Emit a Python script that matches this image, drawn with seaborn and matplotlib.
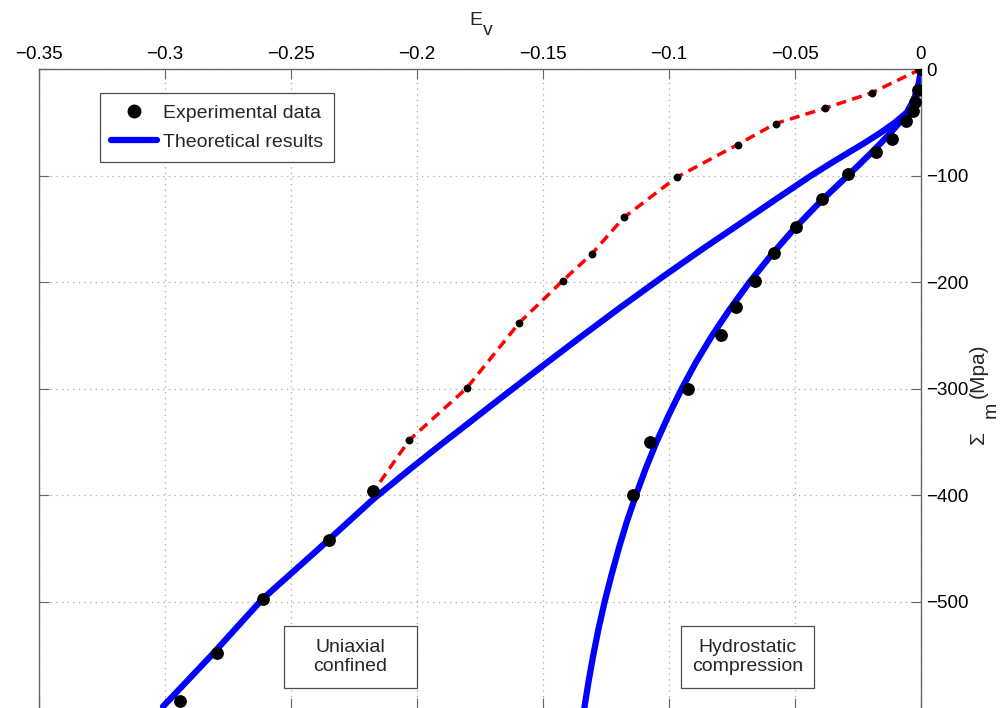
import numpy as np
import pandas as pd
import matplotlib
matplotlib.use('Agg')
import matplotlib.pyplot as plt
from matplotlib.patches import Rectangle
from matplotlib.lines import Line2D
import seaborn as sns

## DATA
# uniaxial confined, experimental, first part (small dots on red dashed line)
uni_exp_small_ev = [0, -0.0196, -0.0381, -0.0577, -0.0727, -0.0969, -0.1179, -0.1306,
                    -0.1422, -0.1594, -0.1803, -0.2031, -0.2173]
uni_exp_small_sm = [0, -22.4, -36.8, -51.2, -70.9, -101.6, -139.4, -173.5,
                    -198.9, -238.3, -299.7, -348.5, -396.7]
# uniaxial confined, experimental, second part (big dots)
uni_exp_big_ev = [-0.2173, -0.2348, -0.2612, -0.2795, -0.2940]
uni_exp_big_sm = [-396.7, -441.8, -498.0, -548.0, -593.0]
# hydrostatic compression, experimental
hyd_exp_ev = [0, -0.0012, -0.0024, -0.0033, -0.0061, -0.0116, -0.0180, -0.0290, -0.0392,
              -0.0497, -0.0582, -0.0658, -0.0734, -0.0794, -0.0926, -0.1075, -0.1142]
hyd_exp_sm = [0, -19.5, -30.5, -39.6, -49.2, -65.5, -78.1, -99.0, -122.5,
              -148.5, -172.6, -198.9, -223.3, -249.6, -300.0, -349.8, -399.8]
# theoretical results
uni_th_ev = [0, -0.0005, -0.0015, -0.0030, -0.0056, -0.0103, -0.0159, -0.0221, -0.0287,
             -0.0359, -0.0441, -0.0577, -0.0723, -0.0870, -0.1029, -0.1188, -0.1348,
             -0.1510, -0.1670, -0.1777, -0.1905, -0.2030, -0.2175, -0.2393, -0.2615,
             -0.2813, -0.3008]
uni_th_sm = [0, -10, -20, -30, -40.8, -50.2, -59.6, -69.0, -78.4,
             -88.7, -100.9, -122.5, -146.0, -169.5, -195.8, -223.0, -251.2,
             -280.3, -309.4, -329.1, -352.6, -376.1, -404.2, -451.2, -498.1,
             -549.8, -598.6]
hyd_th_ev = [0, -0.0005, -0.0015, -0.0030, -0.0053, -0.0084, -0.0121, -0.0161, -0.0203,
             -0.0246, -0.0290, -0.0401, -0.0503, -0.0595, -0.0680, -0.0757, -0.0828,
             -0.0892, -0.0949, -0.1001, -0.1049, -0.1092, -0.1131, -0.1167, -0.1199,
             -0.1228, -0.1255, -0.1279, -0.1300, -0.1319, -0.1336]
hyd_th_sm = [0, -10, -20, -30, -40, -50, -60, -70, -80,
             -90, -100, -125, -150, -175, -200, -225, -250,
             -275, -300, -325, -350, -375, -400, -425, -450,
             -475, -500, -525, -550, -575, -600]

xticks = [-0.35, -0.3, -0.25, -0.2, -0.15, -0.1, -0.05, 0]
xticklabels = ['\u22120.35', '\u22120.3', '\u22120.25', '\u22120.2', '\u22120.15', '\u22120.1', '\u22120.05', '0']
yticks = [0, -100, -200, -300, -400, -500]
yticklabels = ['0', '\u2212100', '\u2212200', '\u2212300', '\u2212400', '\u2212500']

sns.set_style('white')
plt.rcParams['font.family'] = ['Liberation Sans', 'DejaVu Sans']

fig = plt.figure(figsize=(10.01, 7.08), dpi=100)
ax = fig.add_axes([0.039, 0.0, 0.881, 0.9025])

# theory curves and red dashed line first, dots on top
sns.lineplot(x=uni_th_ev, y=uni_th_sm, sort=False, estimator=None, color='#0000ff', lw=4.5, ax=ax)
sns.lineplot(x=hyd_th_ev, y=hyd_th_sm, sort=False, estimator=None, color='#0000ff', lw=4.5, ax=ax)
sns.lineplot(x=uni_exp_small_ev, y=uni_exp_small_sm, sort=False, estimator=None, color='#ff0000',
             lw=2.5, linestyle=(0, (2.9, 1.8)), ax=ax)

sns.scatterplot(x=uni_exp_small_ev, y=uni_exp_small_sm, color='black', s=32, linewidth=0, ax=ax, zorder=5)
sns.scatterplot(x=uni_exp_big_ev, y=uni_exp_big_sm, color='black', s=85, linewidth=0, ax=ax, zorder=5)
sns.scatterplot(x=hyd_exp_ev, y=hyd_exp_sm, color='black', s=85, linewidth=0, ax=ax, zorder=5)

ax.set_xlim(-0.35, 0)
ax.set_ylim(-600, 0)
ax.set_xticks(xticks)
ax.set_xticklabels(xticklabels)
ax.set_yticks(yticks)
ax.set_yticklabels(yticklabels)

ax.xaxis.tick_top()
ax.yaxis.tick_right()
ax.tick_params(axis='both', which='both', direction='in', length=7, width=0.8, color='0.4',
               labelsize=13.5, labelcolor='black', top=True, bottom=True, left=True, right=True,
               labeltop=True, labelbottom=False, labelright=True, labelleft=False)
ax.tick_params(axis='x', pad=4)
ax.tick_params(axis='y', pad=4)

ax.grid(True, color='0.65', linestyle=(0, (1, 3.5)), linewidth=0.9)
for side in ['top', 'left', 'right']:
    ax.spines[side].set_color('0.4')
    ax.spines[side].set_linewidth(1.0)
ax.spines['bottom'].set_visible(False)

# axis labels, MATLAB style with full size subscripts
W, H = 1001.0, 708.0
fig.text(469 / W, (H - 25) / H, 'E', fontsize=14, ha='left', va='baseline')
fig.text(483 / W, (H - 35) / H, 'v', fontsize=14, ha='left', va='baseline')
fig.text(983.5 / W, (H - 444) / H, '\u03a3', fontsize=15, rotation=90, rotation_mode='anchor',
         ha='left', va='baseline')
fig.text(996 / W, (H - 418) / H, 'm', fontsize=14, rotation=90, rotation_mode='anchor',
         ha='left', va='baseline')
fig.text(983.5 / W, (H - 398) / H, '(Mpa)', fontsize=15, rotation=90, rotation_mode='anchor',
         ha='left', va='baseline')

# legend
handles = [Line2D([], [], marker='o', color='black', linestyle='', markersize=9),
           Line2D([], [], color='#0000ff', lw=4.5)]
leg = ax.legend(handles, ['Experimental data', 'Theoretical results'], loc='upper left',
                bbox_to_anchor=(0.069, 0.962), borderaxespad=0, fontsize=14, fancybox=False,
                framealpha=1, edgecolor='0.3', handlelength=2.4, handletextpad=0.3,
                borderpad=0.55, labelspacing=0.6)
leg.get_frame().set_linewidth(0.9)

# annotation boxes
ax.add_patch(Rectangle((-0.2528, -581), 0.0527, 58, fill=True, fc='white', ec='0.3', lw=0.9, zorder=6))
ax.text(-0.2264, -552, 'Uniaxial\nconfined', ha='center', va='center', fontsize=14,
        linespacing=1.1, zorder=7)
ax.add_patch(Rectangle((-0.0952, -581), 0.0526, 58, fill=True, fc='white', ec='0.3', lw=0.9, zorder=6))
ax.text(-0.0689, -552, 'Hydrostatic\ncompression', ha='center', va='center', fontsize=14,
        linespacing=1.1, zorder=7)

fig.savefig('out.png', dpi=100)
